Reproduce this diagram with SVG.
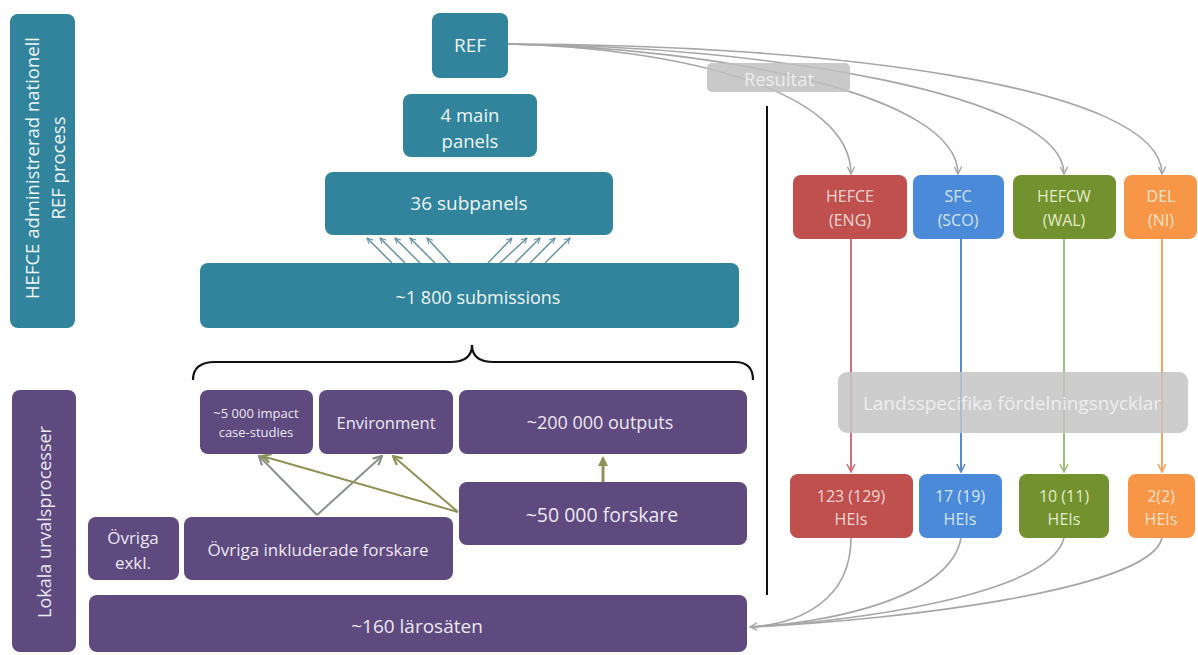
<svg xmlns="http://www.w3.org/2000/svg" width="1198" height="655" viewBox="0 0 1198 655">
<style>
.t{font-family:"Open Sans","Liberation Sans",sans-serif;text-anchor:middle;dominant-baseline:central}
.teal{fill:#31849b}
.pur{fill:#5e4a7e}
.wt{fill:#eef5f7}
.pt{fill:#ece8f2}
.gl{fill:none;stroke:#a6a6a6;stroke-width:1.6}
</style>
<defs>
<marker id="agb" viewBox="0 0 10 10" refX="9" refY="5" markerWidth="9" markerHeight="9" orient="auto" markerUnits="userSpaceOnUse"><path d="M1,1 L9,5 L1,9" fill="none" stroke="#a6a6a6" stroke-width="1.6"/></marker>
<marker id="at" viewBox="0 0 10 10" refX="9" refY="5" markerWidth="7" markerHeight="7" orient="auto" markerUnits="userSpaceOnUse"><path d="M1,1 L9,5 L1,9" fill="none" stroke="#5f8fa0" stroke-width="1.4"/></marker>
<marker id="ar" viewBox="0 0 10 10" refX="9" refY="5" markerWidth="10" markerHeight="10" orient="auto" markerUnits="userSpaceOnUse"><path d="M1,1 L9,5 L1,9" fill="none" stroke="#d06f7a" stroke-width="1.6"/></marker>
<marker id="ab" viewBox="0 0 10 10" refX="9" refY="5" markerWidth="10" markerHeight="10" orient="auto" markerUnits="userSpaceOnUse"><path d="M1,1 L9,5 L1,9" fill="none" stroke="#5b8ac6" stroke-width="1.6"/></marker>
<marker id="agr" viewBox="0 0 10 10" refX="9" refY="5" markerWidth="10" markerHeight="10" orient="auto" markerUnits="userSpaceOnUse"><path d="M1,1 L9,5 L1,9" fill="none" stroke="#a3bd7e" stroke-width="1.6"/></marker>
<marker id="ao" viewBox="0 0 10 10" refX="9" refY="5" markerWidth="10" markerHeight="10" orient="auto" markerUnits="userSpaceOnUse"><path d="M1,1 L9,5 L1,9" fill="none" stroke="#f5a35e" stroke-width="1.6"/></marker>
<marker id="agy" viewBox="0 0 10 10" refX="9" refY="5" markerWidth="11" markerHeight="11" orient="auto" markerUnits="userSpaceOnUse"><path d="M1,1 L9,5 L1,9" fill="none" stroke="#8a918a" stroke-width="2"/></marker>
<marker id="aol" viewBox="0 0 10 10" refX="9" refY="5" markerWidth="11" markerHeight="11" orient="auto" markerUnits="userSpaceOnUse"><path d="M1,1 L9,5 L1,9" fill="none" stroke="#8f9156" stroke-width="2"/></marker>
<marker id="aolf" viewBox="0 0 10 10" refX="8" refY="5" markerWidth="10" markerHeight="10" orient="auto" markerUnits="userSpaceOnUse"><path d="M0,0 L10,5 L0,10 z" fill="#8f9156"/></marker>
</defs>

<!-- left bars -->
<g id="hefce-bar"><rect x="10" y="14" width="65" height="314" rx="8" class="teal"/>
<text class="t wt" font-size="18.5" transform="translate(44,168) rotate(-90)"><tspan x="0" y="-13">HEFCE administrerad nationell</tspan><tspan x="0" y="13">REF process</tspan></text></g>
<g id="lokala-bar"><rect x="12" y="390" width="64" height="262" rx="8" class="pur"/>
<text class="t pt" font-size="18" transform="translate(44,522) rotate(-90)">Lokala urvalsprocesser</text></g>

<!-- connectors -->
<g id="connectors">
<path class="gl" d="M508,44 C680,48 851,90 851,174" marker-end="url(#agb)"/>
<path class="gl" d="M508,44 C720,48 958,95 958,174" marker-end="url(#agb)"/>
<path class="gl" d="M508,44 C770,46 1064,95 1064,174" marker-end="url(#agb)"/>
<path class="gl" d="M508,44 C820,44 1162,85 1162,174" marker-end="url(#agb)"/>
<path d="M851,239 L851,472" stroke="#d06f7a" stroke-width="2" marker-end="url(#ar)"/>
<path d="M961,239 L961,472" stroke="#5b8ac6" stroke-width="2" marker-end="url(#ab)"/>
<path d="M1064,239 L1064,472" stroke="#a3bd7e" stroke-width="2" marker-end="url(#agr)"/>
<path d="M1162,239 L1162,472" stroke="#f5a35e" stroke-width="2" marker-end="url(#ao)"/>
<path class="gl" d="M851,538 C851,600 800,624 750,627" marker-end="url(#agb)"/>
<path class="gl" d="M961,538 C950,600 820,624 750,627"/>
<path class="gl" d="M1064,538 C1050,595 850,622 750,627"/>
<path class="gl" d="M1162,538 C1150,590 900,620 750,627"/>
<g stroke="#5f8fa0" stroke-width="1.4" fill="none">
<path d="M392,263 L367,238" marker-end="url(#at)"/>
<path d="M405,263 L380,238" marker-end="url(#at)"/>
<path d="M420,263 L395,238" marker-end="url(#at)"/>
<path d="M435,263 L410,238" marker-end="url(#at)"/>
<path d="M450,263 L427,238" marker-end="url(#at)"/>
<path d="M488,263 L512,238" marker-end="url(#at)"/>
<path d="M500,263 L527,238" marker-end="url(#at)"/>
<path d="M515,263 L540,238" marker-end="url(#at)"/>
<path d="M530,263 L555,238" marker-end="url(#at)"/>
<path d="M545,263 L570,238" marker-end="url(#at)"/>
</g>
<path d="M317,515 L259,456" stroke="#8a918a" stroke-width="2" fill="none" marker-end="url(#agy)"/>
<path d="M317,515 L382,456" stroke="#8a918a" stroke-width="2" fill="none" marker-end="url(#agy)"/>
<path d="M458,512 L262,456" stroke="#8f9156" stroke-width="2" fill="none" marker-end="url(#aol)"/>
<path d="M458,512 L393,456" stroke="#8f9156" stroke-width="2" fill="none" marker-end="url(#aol)"/>
<path d="M603,482 L603,458" stroke="#8f9156" stroke-width="3" fill="none" marker-end="url(#aolf)"/>
<path d="M767,106 L767,595" stroke="#111" stroke-width="2"/>
<path d="M193,380 Q193,362 215,362 L450,362 Q472,362 472,345 Q472,362 494,362 L735,362 Q753,362 753,380" fill="none" stroke="#111" stroke-width="2.2"/>
</g>

<!-- teal nodes -->
<g id="ref"><rect x="432" y="13" width="76" height="65" rx="8" class="teal"/><text class="t wt" x="470" y="45" font-size="19">REF</text></g>
<g id="main-panels"><rect x="403" y="94" width="134" height="63" rx="8" class="teal"/><text class="t wt" x="470" y="114" font-size="18.5">4 main</text><text class="t wt" x="470" y="140" font-size="18.5">panels</text></g>
<g id="subpanels"><rect x="325" y="172" width="288" height="63" rx="8" class="teal"/><text class="t wt" x="469" y="203" font-size="19">36 subpanels</text></g>
<g id="submissions"><rect x="200" y="263" width="539" height="65" rx="8" class="teal"/><text class="t wt" x="478" y="297" font-size="18">~1 800 submissions</text></g>

<!-- result box -->
<g id="resultat"><rect x="707" y="63" width="143" height="29" rx="5" fill="#bfbfbf" opacity="0.85"/><text class="t" x="779" y="78" font-size="18.5" fill="#ececec">Resultat</text></g>

<!-- country nodes -->
<g id="hefce"><rect x="793" y="175" width="114" height="64" rx="8" fill="#c0504d"/><text class="t" x="850" y="196" font-size="16" fill="#f2d4d3">HEFCE</text><text class="t" x="850" y="220" font-size="16" fill="#f2d4d3">(ENG)</text></g>
<g id="sfc"><rect x="913" y="175" width="91" height="64" rx="8" fill="#4a8ad8"/><text class="t" x="958" y="196" font-size="16" fill="#d5e5f7">SFC</text><text class="t" x="958" y="220" font-size="16" fill="#d5e5f7">(SCO)</text></g>
<g id="hefcw"><rect x="1013" y="175" width="103" height="64" rx="8" fill="#73912f"/><text class="t" x="1064" y="196" font-size="16" fill="#e1ecc8">HEFCW</text><text class="t" x="1064" y="220" font-size="16" fill="#e1ecc8">(WAL)</text></g>
<g id="del"><rect x="1124" y="175" width="73" height="64" rx="8" fill="#f79646"/><text class="t" x="1161" y="196" font-size="16" fill="#fde2c8">DEL</text><text class="t" x="1161" y="220" font-size="16" fill="#fde2c8">(NI)</text></g>

<g id="landsspecifika"><rect x="838" y="372" width="350" height="61" rx="9" fill="#c4c4c4" opacity="0.85"/><text class="t" x="1012" y="403" font-size="19" fill="#eeeeee">Landsspecifika fördelningsnycklar</text></g>

<g id="hei-eng"><rect x="790" y="474" width="123" height="64" rx="8" fill="#c0504d"/><text class="t" x="851" y="496" font-size="16" fill="#f2d4d3">123 (129)</text><text class="t" x="851" y="519" font-size="16" fill="#f2d4d3">HEIs</text></g>
<g id="hei-sco"><rect x="919" y="474" width="83" height="64" rx="8" fill="#4a8ad8"/><text class="t" x="960" y="496" font-size="16" fill="#d5e5f7">17 (19)</text><text class="t" x="960" y="519" font-size="16" fill="#d5e5f7">HEIs</text></g>
<g id="hei-wal"><rect x="1019" y="474" width="90" height="64" rx="8" fill="#73912f"/><text class="t" x="1064" y="496" font-size="16" fill="#e1ecc8">10 (11)</text><text class="t" x="1064" y="519" font-size="16" fill="#e1ecc8">HEIs</text></g>
<g id="hei-ni"><rect x="1128" y="474" width="67" height="64" rx="8" fill="#f79646"/><text class="t" x="1161" y="496" font-size="16" fill="#fde2c8">2(2)</text><text class="t" x="1161" y="519" font-size="16" fill="#fde2c8">HEIs</text></g>

<!-- purple nodes -->
<g id="impact"><rect x="200" y="390" width="113" height="64" rx="8" class="pur"/><text class="t pt" x="256" y="413" font-size="13">~5 000 impact</text><text class="t pt" x="256" y="432" font-size="13">case-studies</text></g>
<g id="environment"><rect x="319" y="390" width="134" height="64" rx="8" class="pur"/><text class="t pt" x="386" y="422" font-size="16.5">Environment</text></g>
<g id="outputs"><rect x="459" y="390" width="288" height="64" rx="8" class="pur"/><text class="t pt" x="600" y="422" font-size="18">~200 000 outputs</text></g>
<g id="forskare"><rect x="459" y="482" width="288" height="63" rx="8" class="pur"/><text class="t pt" x="602" y="514" font-size="19.5">~50 000 forskare</text></g>
<g id="ovriga-exkl"><rect x="88" y="517" width="91" height="63" rx="8" class="pur"/><text class="t pt" x="133" y="537" font-size="17">Övriga</text><text class="t pt" x="133" y="562" font-size="17">exkl.</text></g>
<g id="ovriga-inkl"><rect x="184" y="517" width="269" height="63" rx="8" class="pur"/><text class="t pt" x="318" y="549" font-size="17">Övriga inkluderade forskare</text></g>
<g id="larosaten"><rect x="89" y="595" width="658" height="57" rx="8" class="pur"/><text class="t pt" x="417" y="626" font-size="19">~160 lärosäten</text></g>
</svg>
